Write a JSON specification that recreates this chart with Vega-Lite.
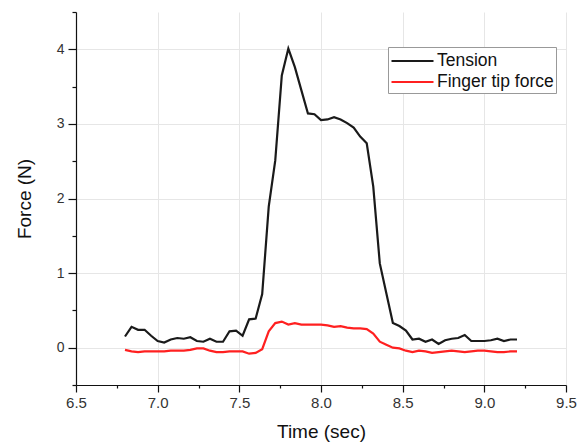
{
  "$schema": "https://vega.github.io/schema/vega-lite/v6.json",
  "width": 490,
  "height": 373,
  "autosize": {"type": "none"},
  "padding": {"left": 76, "top": 12, "right": 17, "bottom": 62},
  "background": "white",
  "config": {
    "view": {"stroke": null},
    "font": "Liberation Sans",
    "axis": {
      "domainColor": "#111111",
      "domainWidth": 1.2,
      "tickColor": "#111111",
      "tickWidth": 1.2,
      "labelColor": "#333333",
      "titleColor": "#111111",
      "titleFontWeight": "normal",
      "titleFontSize": 19,
      "labelFont": "Liberation Sans",
      "titleFont": "Liberation Sans",
      "gridColor": "#e6e6e6",
      "gridWidth": 1
    }
  },
  "data": {
    "values": [
      {"t": 6.80, "Tension": 0.15, "Finger": -0.03},
      {"t": 6.84, "Tension": 0.28, "Finger": -0.05},
      {"t": 6.88, "Tension": 0.24, "Finger": -0.06},
      {"t": 6.92, "Tension": 0.24, "Finger": -0.05},
      {"t": 6.96, "Tension": 0.16, "Finger": -0.05},
      {"t": 7.00, "Tension": 0.09, "Finger": -0.05},
      {"t": 7.04, "Tension": 0.07, "Finger": -0.05},
      {"t": 7.08, "Tension": 0.11, "Finger": -0.04},
      {"t": 7.12, "Tension": 0.13, "Finger": -0.04},
      {"t": 7.16, "Tension": 0.12, "Finger": -0.04},
      {"t": 7.20, "Tension": 0.14, "Finger": -0.03},
      {"t": 7.24, "Tension": 0.09, "Finger": -0.01},
      {"t": 7.28, "Tension": 0.08, "Finger": -0.01},
      {"t": 7.32, "Tension": 0.12, "Finger": -0.04},
      {"t": 7.36, "Tension": 0.08, "Finger": -0.06},
      {"t": 7.40, "Tension": 0.08, "Finger": -0.06},
      {"t": 7.44, "Tension": 0.22, "Finger": -0.05},
      {"t": 7.48, "Tension": 0.23, "Finger": -0.05},
      {"t": 7.52, "Tension": 0.16, "Finger": -0.05},
      {"t": 7.56, "Tension": 0.38, "Finger": -0.08},
      {"t": 7.60, "Tension": 0.39, "Finger": -0.07},
      {"t": 7.64, "Tension": 0.72, "Finger": -0.02},
      {"t": 7.68, "Tension": 1.89, "Finger": 0.22},
      {"t": 7.72, "Tension": 2.51, "Finger": 0.33},
      {"t": 7.76, "Tension": 3.65, "Finger": 0.35},
      {"t": 7.80, "Tension": 4.01, "Finger": 0.31},
      {"t": 7.84, "Tension": 3.76, "Finger": 0.33},
      {"t": 7.88, "Tension": 3.45, "Finger": 0.31},
      {"t": 7.92, "Tension": 3.14, "Finger": 0.31},
      {"t": 7.96, "Tension": 3.13, "Finger": 0.31},
      {"t": 8.00, "Tension": 3.05, "Finger": 0.31},
      {"t": 8.04, "Tension": 3.06, "Finger": 0.30},
      {"t": 8.08, "Tension": 3.09, "Finger": 0.28},
      {"t": 8.12, "Tension": 3.06, "Finger": 0.29},
      {"t": 8.16, "Tension": 3.01, "Finger": 0.27},
      {"t": 8.20, "Tension": 2.95, "Finger": 0.26},
      {"t": 8.24, "Tension": 2.83, "Finger": 0.26},
      {"t": 8.28, "Tension": 2.74, "Finger": 0.25},
      {"t": 8.32, "Tension": 2.16, "Finger": 0.19},
      {"t": 8.36, "Tension": 1.13, "Finger": 0.08},
      {"t": 8.40, "Tension": 0.73, "Finger": 0.04},
      {"t": 8.44, "Tension": 0.33, "Finger": 0.00},
      {"t": 8.48, "Tension": 0.29, "Finger": -0.01},
      {"t": 8.52, "Tension": 0.23, "Finger": -0.04},
      {"t": 8.56, "Tension": 0.11, "Finger": -0.06},
      {"t": 8.60, "Tension": 0.12, "Finger": -0.04},
      {"t": 8.64, "Tension": 0.08, "Finger": -0.05},
      {"t": 8.68, "Tension": 0.11, "Finger": -0.07},
      {"t": 8.72, "Tension": 0.05, "Finger": -0.06},
      {"t": 8.76, "Tension": 0.10, "Finger": -0.05},
      {"t": 8.80, "Tension": 0.12, "Finger": -0.04},
      {"t": 8.84, "Tension": 0.13, "Finger": -0.05},
      {"t": 8.88, "Tension": 0.17, "Finger": -0.06},
      {"t": 8.92, "Tension": 0.09, "Finger": -0.05},
      {"t": 8.96, "Tension": 0.09, "Finger": -0.04},
      {"t": 9.00, "Tension": 0.09, "Finger": -0.04},
      {"t": 9.04, "Tension": 0.10, "Finger": -0.05},
      {"t": 9.08, "Tension": 0.12, "Finger": -0.06},
      {"t": 9.12, "Tension": 0.09, "Finger": -0.06},
      {"t": 9.16, "Tension": 0.11, "Finger": -0.05},
      {"t": 9.20, "Tension": 0.11, "Finger": -0.05}
    ]
  },
  "transform": [
    {"fold": ["Tension", "Finger"], "as": ["key", "force"]},
    {"calculate": "datum.key === 'Tension' ? 'Tension' : 'Finger tip force'", "as": "series"}
  ],
  "mark": {"type": "line", "strokeWidth": 2.2, "clip": true},
  "encoding": {
    "x": {
      "field": "t",
      "type": "quantitative",
      "scale": {"domain": [6.5, 9.5], "nice": false, "zero": false},
      "axis": {
        "title": "Time (sec)",
        "values": [6.5, 6.75, 7, 7.25, 7.5, 7.75, 8, 8.25, 8.5, 8.75, 9, 9.25, 9.5],
        "format": ".1f",
        "labelExpr": "datum.value % 0.5 === 0 ? datum.label : ''",
        "labelFontSize": 15,
        "labelPadding": 3,
        "labelFlush": false,
        "labelOverlap": false,
        "tickSize": {"condition": {"test": "datum.value % 0.5 === 0", "value": 7}, "value": 3},
        "gridOpacity": {"condition": {"test": "datum.value % 0.5 === 0 && datum.value > 6.5", "value": 1}, "value": 0},
        "titlePadding": 12
      }
    },
    "y": {
      "field": "force",
      "type": "quantitative",
      "scale": {"domain": [-0.5, 4.5], "nice": false, "zero": false},
      "axis": {
        "title": "Force (N)",
        "values": [-0.5, 0, 0.5, 1, 1.5, 2, 2.5, 3, 3.5, 4, 4.5],
        "format": ".0f",
        "labelExpr": "datum.value % 1 === 0 ? datum.label : ''",
        "labelFontSize": 14,
        "labelPadding": 4,
        "labelFlush": false,
        "labelOverlap": false,
        "tickSize": {"condition": {"test": "datum.value % 1 === 0", "value": 8}, "value": 4},
        "gridOpacity": {"condition": {"test": "datum.value % 1 === 0", "value": 1}, "value": 0},
        "titlePadding": 22
      }
    },
    "color": {
      "field": "series",
      "type": "nominal",
      "scale": {"domain": ["Tension", "Finger tip force"], "range": ["#1a1a1a", "#ff2020"]},
      "legend": {
        "title": null,
        "orient": "none",
        "legendX": 312,
        "legendY": 35,
        "direction": "vertical",
        "strokeColor": "#999999",
        "fillColor": "white",
        "padding": 2,
        "symbolType": "M-1,0H3",
        "symbolSize": 441,
        "symbolStrokeWidth": 2.2,
        "labelFontSize": 17.5,
        "labelColor": "#111111",
        "labelFont": "Liberation Sans",
        "rowPadding": 0,
        "labelOffset": 23
      }
    }
  }
}
